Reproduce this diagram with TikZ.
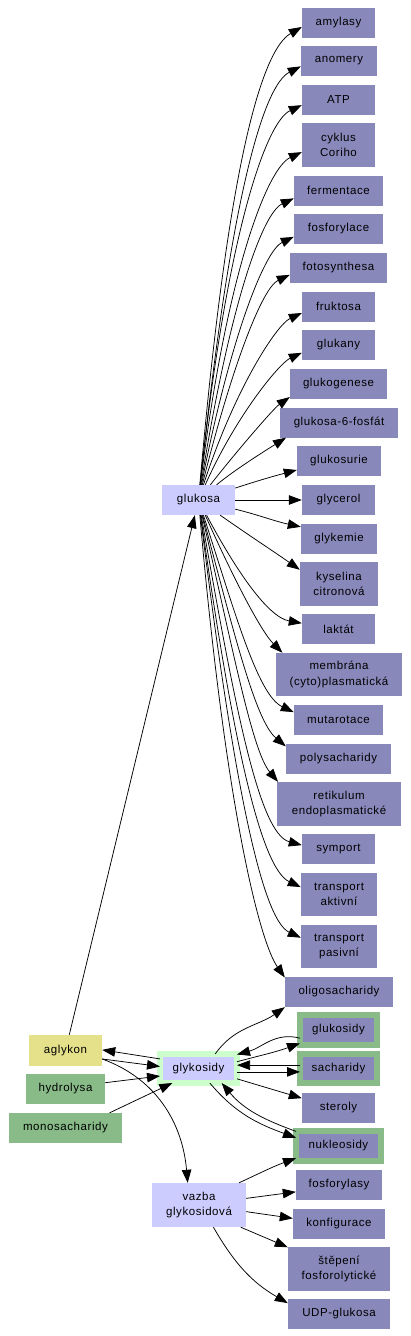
\documentclass[tikz,border=0pt]{standalone}
\usepackage{fontspec}
\setmainfont{Liberation Sans}[LetterSpace=5]
\usetikzlibrary{arrows.meta}
\definecolor{topic}{HTML}{8888BB}
\definecolor{lavender}{HTML}{CCCCFF}
\definecolor{moss}{HTML}{88BB88}
\definecolor{straw}{HTML}{E5E08A}
\definecolor{mint}{HTML}{CCFFCC}

\begin{document}
\begin{tikzpicture}[
      x=1pt, y=1pt,
      font=\fontsize{11.5}{15.5}\selectfont,
      term/.style={rectangle, fill=topic, align=center, inner sep=0pt,
        minimum width=73pt, minimum height=30pt},
      hub/.style={term, fill=lavender},
      ring/.style={term, draw=moss, line width=6pt, outer sep=0pt,
        minimum width=77pt, minimum height=30pt},
      arrow/.style={-{Triangle[length=13pt, width=9.5pt]}, line width=0.75pt}
    ]
    \useasboundingbox (0,0) rectangle (410,-1336);

    \node[term] (amylasy) at (338.5,-22.5) {amylasy};
    \node[term, minimum width=76pt] (anomery) at (339,-61) {anomery};
    \node[term] (atp) at (338.5,-100) {ATP};
    \node[term, minimum height=44pt] (cori) at (338.5,-145) {cyklus\\Coriho};
    \node[term, minimum width=89pt] (fermentace) at (338.5,-190.5) {fermentace};
    \node[term, minimum width=89pt] (fosforylace) at (338.5,-229) {fosforylace};
    \node[term, minimum width=97pt] (fotosynthesa) at (338.5,-268) {fotosynthesa};
    \node[term] (fruktosa) at (338.5,-306.5) {fruktosa};
    \node[term] (glukany) at (338.5,-345) {glukany};
    \node[term, minimum width=97pt] (glukogenese) at (338.5,-384) {glukogenese};
    \node[term, minimum width=118pt] (g6p) at (339,-422.5) {glukosa-6-fosfát};
    \node[term, minimum width=84pt] (glukosurie) at (339,-461) {glukosurie};
    \node[hub] (glukosa) at (198.5,-500) {glukosa};
    \node[term] (glycerol) at (338.5,-500) {glycerol};
    \node[term, minimum width=76pt] (glykemie) at (339,-538.5) {glykemie};
    \node[term, minimum width=78pt, minimum height=44pt] (citronova) at (339,-584) {kyselina\\citronová};
    \node[term] (laktat) at (338.5,-629) {laktát};
    \node[term, minimum width=126pt, minimum height=43pt] (membrana) at (339,-674.5) {membrána\\(cyto)plasmatická};
    \node[term, minimum width=89pt] (mutarotace) at (338.5,-720) {mutarotace};
    \node[term, minimum width=105pt] (polysacharidy) at (338.5,-758.5) {polysacharidy};
    \node[term, minimum width=124pt, minimum height=44pt] (retikulum) at (339,-804) {retikulum\\endoplasmatické};
    \node[term] (symport) at (338.5,-849) {symport};
    \node[term, minimum width=76pt, minimum height=43pt] (aktivni) at (339,-894.5) {transport\\aktivní};
    \node[term, minimum width=76pt, minimum height=43pt] (pasivni) at (339,-946.5) {transport\\pasivní};
    \node[term, minimum width=108pt] (oligo) at (339,-992) {oligosacharidy};
    \node[ring] (glukosidy) at (338.5,-1030) {glukosidy};
    \node[ring, minimum height=29pt] (sacharidy) at (338.5,-1068.5) {sacharidy};
    \node[term] (steroly) at (338.5,-1108) {steroly};
    \node[ring, minimum width=85pt] (nukleosidy) at (338.5,-1146) {nukleosidy};
    \node[term, fill=straw, minimum height=31pt] (aglykon) at (65.5,-1050.5) {aglykon};
    \node[term, fill=moss, minimum width=79pt] (hydrolysa) at (65.5,-1089) {hydrolysa};
    \node[term, fill=moss, minimum width=113pt] (mono) at (65.5,-1128) {monosacharidy};
    \node[ring, draw=mint, fill=lavender, minimum height=29pt] (glykosidy) at (198.5,-1068.5) {glykosidy};
    \node[hub, minimum width=94pt, minimum height=44pt] (vazba) at (199,-1205) {vazba\\glykosidová};
    \node[term, minimum width=86pt] (fosforylasy) at (339,-1185) {fosforylasy};
    \node[term, minimum width=92pt] (konfigurace) at (339,-1224) {konfigurace};
    \node[term, minimum width=102pt, minimum height=44pt] (stepeni) at (339,-1269) {štěpení\\fosforolytické};
    \node[term, minimum width=102pt] (udp) at (339,-1314) {UDP-glukosa};

    \draw[arrow] (glukosa) to[out=85, in=210, out distance=330pt, in distance=45pt] (amylasy.187);
    \draw[arrow] (glukosa) to[out=84, in=207, out distance=290pt, in distance=42pt] (anomery.188);
    \draw[arrow] (glukosa) to[out=84, in=205, out distance=250pt, in distance=40pt] (atp.188);
    \draw[arrow] (glukosa) to[out=83, in=205, out distance=215pt, in distance=38pt] (cori.191);
    \draw[arrow] (glukosa) to[out=81, in=205, out distance=180pt, in distance=35pt] (fermentace.190);
    \draw[arrow] (glukosa) to[out=79, in=205, out distance=150pt, in distance=32pt] (fosforylace.190);
    \draw[arrow] (glukosa) to[out=76, in=205, out distance=125pt, in distance=30pt] (fotosynthesa.188);
    \draw[arrow] (glukosa) to[out=72, in=205, out distance=100pt, in distance=28pt] (fruktosa.190);
    \draw[arrow] (glukosa) to[out=66, in=205, out distance=75pt, in distance=25pt] (glukany.192);
    \draw[arrow] (glukosa) to[out=52, in=215, out distance=40pt, in distance=20pt] (glukogenese.195);
    \draw[arrow] (glukosa) to[out=40, in=212, out distance=25pt, in distance=15pt] (g6p.196);
    \draw[arrow] (glukosa) to[out=18, in=195] (glukosurie.192);
    \draw[arrow] (glukosa) -- (glycerol);
    \draw[arrow] (glukosa) to[out=-14, in=168] (glykemie.163);
    \draw[arrow] (glukosa) to[out=-35, in=145, out distance=35pt, in distance=30pt] (citronova.160);
    \draw[arrow] (glukosa) to[out=-62, in=170, out distance=60pt, in distance=35pt] (laktat.171);
    \draw[arrow] (glukosa) to[out=-66, in=135, out distance=70pt, in distance=30pt] (membrana.159);
    \draw[arrow] (glukosa) to[out=-72, in=155, out distance=100pt, in distance=40pt] (mutarotace.170);
    \draw[arrow] (glukosa) to[out=-75, in=140, out distance=120pt, in distance=40pt] (polysacharidy.167);
    \draw[arrow] (glukosa) to[out=-77, in=130, out distance=140pt, in distance=40pt] (retikulum.160);
    \draw[arrow] (glukosa) to[out=-80, in=165, out distance=190pt, in distance=45pt] (symport.174);
    \draw[arrow] (glukosa) to[out=-82, in=155, out distance=220pt, in distance=45pt] (aktivni.169);
    \draw[arrow] (glukosa) to[out=-83, in=155, out distance=250pt, in distance=45pt] (pasivni.167);
    \draw[arrow] (glukosa) to[out=-85, in=125, out distance=290pt, in distance=45pt] (oligo.165);

    \draw[arrow] (aglykon) -- (glukosa);
    \draw[arrow] (glykosidy.166) -- (aglykon.1);
    \draw[arrow] (aglykon.-13) -- (glykosidy.177);
    \draw[arrow] (hydrolysa.9) -- (glykosidy.191);
    \draw[arrow] (mono.19) -- (glykosidy.209);
    \draw[arrow] (glykosidy.41) to[out=55, in=215] (oligo.south west);
    \draw[arrow] (glukosidy.192) to[out=165, in=15] (glykosidy.20);
    \draw[arrow] (glykosidy.10) to[out=15, in=200] (glukosidy.199);
    \draw[arrow] (sacharidy.175) -- (glykosidy.5);
    \draw[arrow] (glykosidy.-5) -- (sacharidy.185);
    \draw[arrow] (glykosidy.-15) -- (steroly.165);
    \draw[arrow] (glykosidy.-52) to[out=-50, in=160] (nukleosidy.169);
    \draw[arrow] (nukleosidy.161) to[out=160, in=-50] (glykosidy.-32);
    \draw[arrow] (aglykon.-13) to[out=-20, in=95] (vazba.117);
    \draw[arrow] (vazba.29) to[out=25, in=200] (nukleosidy.196);
    \draw[arrow] (vazba.8) -- (fosforylasy.189);
    \draw[arrow] (vazba.-8) -- (konfigurace.173);
    \draw[arrow] (vazba.-28) -- (stepeni.157);
    \draw[arrow] (vazba.-57) to[out=-60, in=150] (udp.168);
  \end{tikzpicture}
\end{document}
